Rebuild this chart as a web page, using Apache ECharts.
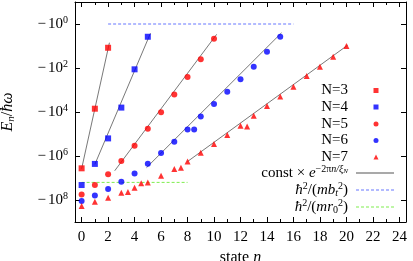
<!DOCTYPE html>
<html><head><meta charset="utf-8">
<script src="https://cdn.jsdelivr.net/npm/echarts@6/dist/echarts.min.js"></script>
<style>html,body{margin:0;padding:0;background:#fff}#c{width:413px;height:261px}</style>
</head><body><div id="c"></div>
<script>
// Values: y = log10(|E_n / ħω|)  (axis shows −10^y)
const n3 = [0, 1, 2];
const e3 = [6.56, 3.85, 1.08];
const n4 = [0, 1, 2, 3, 4, 5];
const e4 = [7.32, 6.36, 5.20, 3.80, 2.06, 0.58];
const n5 = [0, 1, 2, 3, 4, 5, 6, 7, 8, 9, 10];
const e5 = [7.75, 7.32, 6.83, 6.23, 5.53, 4.76, 4.01, 3.21, 2.41, 1.60, 0.67];
const n6 = [0, 1, 2, 3, 4, 5, 6, 7, 8, 8.5, 9, 10, 11, 12, 13, 14, 15];
const e6 = [8.05, 7.79, 7.50, 7.17, 6.79, 6.35, 5.86, 5.35, 4.80, 4.79, 4.21, 3.64, 3.08, 2.51, 1.94, 1.26, 0.58];
const n7 = [0, 1, 2, 3, 3.5, 4, 4.5, 5, 6, 7, 7.5, 8, 9, 10, 11, 12, 12.5, 13, 14, 15, 16, 17, 18, 19, 20];
const e7 = [8.27, 8.08, 7.90, 7.67, 7.64, 7.44, 7.24, 7.20, 6.90, 6.59, 6.53, 6.25, 5.85, 5.45, 5.05, 4.62, 4.66, 4.17, 3.73, 3.30, 2.85, 2.36, 1.94, 1.49, 1.00];
// fit lines const*exp(-2πn/ξ_N): [n start, y start, n end, y end]
const fitN3 = [0, 6.58, 2.1, 0.85];
const fitN4 = [1, 6.38, 5.2, 0.42];
const fitN5 = [2.5, 6.67, 10.2, 0.47];
const fitN6 = [4.9, 6.53, 15.1, 0.40];
const fitN7 = [8, 6.25, 20.1, 0.96];
// reference levels: n from, n to, y
const levelBt = [2, 16, 0];     // ħ²/(m b_t²)
const levelR0 = [0, 8, 7.2];    // ħ²/(m r_0²)
const xLabelTicks = [0, 2, 4, 6, 8, 10, 12, 14, 16, 18, 20, 22, 24];
const xMinorTicks = [0,1,2,3,4,5,6,7,8,9,10,11,12,13,14,15,16,17,18,19,20,21,22,23,24];
const yLabelTicks = [0, 2, 4, 6, 8];

const F = "'Liberation Serif','DejaVu Serif',serif";
const FS = 15;
const rich = {
  n: {fontFamily: F, fontSize: FS, color: '#000'},
  m: {fontFamily: F, fontSize: FS, color: '#000', padding: [0, 2, 0, 0]},
  i: {fontFamily: F, fontSize: FS, fontStyle: 'italic', color: '#000'},
  big: {fontFamily: F, fontSize: 16, fontStyle: 'italic', color: '#000'},
  bign: {fontFamily: F, fontSize: 16, color: '#000'},
  sup: {fontFamily: F, fontSize: 10, color: '#000', padding: [0, 0, 8, 0]},
  supi: {fontFamily: F, fontSize: 10, fontStyle: 'italic', color: '#000', padding: [0, 0, 8, 0]},
  supsub: {fontFamily: F, fontSize: 7, fontStyle: 'italic', color: '#000', padding: [0, 0, 3, 0]},
  sub: {fontFamily: F, fontSize: 10, color: '#000', padding: [6, 0, 0, 0]},
  subi: {fontFamily: F, fontSize: 10, fontStyle: 'italic', color: '#000', padding: [6, 0, 0, 0]},
  bsubi: {fontFamily: F, fontSize: 11, fontStyle: 'italic', color: '#000', padding: [7, 0, 0, 0]}
};
const zip = (a, b) => a.map((v, k) => [v, b[k]]);
const seg = s => [[s[0], s[1]], [s[2], s[3]]];

const RED = '#ff0000', BLUE = '#0000ff', FIT = '#555555', LBLUE = '#6677ff', LGREEN = '#7fee4f';
const names = {
  'N=3': '{n|N=3}', 'N=4': '{n|N=4}', 'N=5': '{n|N=5}', 'N=6': '{n|N=6}', 'N=7': '{n|N=7}',
  fit: '{n|const × }{i|e}{sup|−2π}{supi|n/ξ}{supsub|N}',
  bt: '{i|ħ}{sup|2}{n|/(}{i|mb}{subi|t}{sup|2}{n|)}',
  r0: '{i|ħ}{sup|2}{n|/(}{i|mr}{sub|0}{sup|2}{n|)}'
};
const scatter = (name, x, y, sym, col, size) => ({
  type: 'scatter', name, data: zip(x, y), symbol: sym, symbolSize: size,
  itemStyle: {color: col}, z: 4, silent: true
});
const lineS = (name, data, col, type, w) => ({
  type: 'line', name, data, symbol: 'none', z: 3, silent: true,
  lineStyle: {color: col, width: w, type}, itemStyle: {color: col}
});

const series = [
  scatter('N=3', n3, e3, 'rect', RED, 6),
  scatter('N=4', n4, e4, 'rect', BLUE, 6),
  scatter('N=5', n5, e5, 'circle', RED, 6),
  scatter('N=6', n6, e6, 'circle', BLUE, 6),
  scatter('N=7', n7, e7, 'triangle', RED, 6),
  lineS('fit', seg(fitN3), FIT, 'solid', 0.8),
  lineS('fit', seg(fitN4), FIT, 'solid', 0.8),
  lineS('fit', seg(fitN5), FIT, 'solid', 0.8),
  lineS('fit', seg(fitN6), FIT, 'solid', 0.8),
  lineS('fit', seg(fitN7), FIT, 'solid', 0.8),
  lineS('bt', [[levelBt[0], levelBt[2]], [levelBt[1], levelBt[2]]], LBLUE, [3, 2], 1),
  lineS('r0', [[levelR0[0], levelR0[2]], [levelR0[1], levelR0[2]]], LGREEN, [3, 2], 1)
];

// dashed legend sample (38 x 1)
const dashPath = 'path://M0,0h3v1h-3z M5,0h3v1h-3z M10,0h3v1h-3z M15,0h3v1h-3z M20,0h3v1h-3z M25,0h3v1h-3z M30,0h3v1h-3z M35,0h3v1h-3z';
const legendOrder = ['N=3', 'N=4', 'N=5', 'N=6', 'N=7', 'fit', 'bt', 'r0'];
const legendCenters = [92, 108.5, 125.5, 142, 158.5, 175, 192, 209];
const legends = legendOrder.map((nm, k) => {
  const isMark = k < 5;
  const icon = isMark ? undefined : (nm === 'fit' ? 'rect' : dashPath);
  const d = {name: nm};
  if (icon) d.icon = icon;
  return {
    data: [d], orient: 'vertical', align: 'right',
    right: isMark ? 34.5 : 19,
    top: legendCenters[k] - (isMark ? 9 : 11),
    padding: 0, itemWidth: isMark ? 5 : 38, itemHeight: isMark ? 5 : 1, selectedMode: false,
    formatter: name => names[name],
    textStyle: {fontFamily: F, fontSize: FS, color: '#000', rich, padding: [0, isMark ? 20.5 : 3, 0, 0]}
  };
});

const xBase = {type: 'value', min: -0.5, max: 24.5, splitLine: {show: false}, gridIndex: 0};
const yBase = {type: 'value', min: -1, max: 9, inverse: true, splitLine: {show: false}, gridIndex: 0};
const axLine = {show: true, onZero: false, lineStyle: {color: '#000', width: 1}};
const noLine = {show: false, onZero: false};

const option = {
  animation: false,
  backgroundColor: '#fff',
  grid: {left: 75, top: 2, width: 331, height: 220, containLabel: false, outerBoundsMode: 'none'},
  legend: legends,
  xAxis: [
    Object.assign({}, xBase, {position: 'bottom', axisLine: axLine,
      axisTick: {inside: true, length: 5, customValues: xLabelTicks, lineStyle: {color: '#000'}},
      axisLabel: {customValues: xLabelTicks, fontFamily: F, fontSize: FS, color: '#000', margin: 8},
      name: '{bign|state }{big|n}', nameLocation: 'middle', nameGap: 25,
      nameTextStyle: {rich, fontFamily: F, fontSize: 16}}),
    Object.assign({}, xBase, {position: 'bottom', axisLine: noLine,
      axisTick: {inside: true, length: 3, customValues: xMinorTicks, lineStyle: {color: '#000'}},
      axisLabel: {show: false}}),
    Object.assign({}, xBase, {position: 'top', axisLine: axLine,
      axisTick: {inside: true, length: 5, customValues: xLabelTicks, lineStyle: {color: '#000'}},
      axisLabel: {show: false}}),
    Object.assign({}, xBase, {position: 'top', axisLine: noLine,
      axisTick: {inside: true, length: 3, customValues: xMinorTicks, lineStyle: {color: '#000'}},
      axisLabel: {show: false}})
  ],
  yAxis: [
    Object.assign({}, yBase, {position: 'left', axisLine: axLine,
      axisTick: {inside: true, length: 5, customValues: yLabelTicks, lineStyle: {color: '#000'}},
      axisLabel: {customValues: yLabelTicks, margin: 7, rich,
        formatter: v => '{m|−}{n|10}{sup|' + v + '}'},
      name: '{big|E}{bsubi|n}{bign|/}{big|ħω}', nameLocation: 'middle', nameGap: 58, nameRotate: 90,
      nameTextStyle: {rich, fontFamily: F, fontSize: 16}}),
    Object.assign({}, yBase, {position: 'right', axisLine: axLine,
      axisTick: {inside: true, length: 5, customValues: yLabelTicks, lineStyle: {color: '#000'}},
      axisLabel: {show: false}})
  ],
  series
};
const chart = echarts.init(document.getElementById('c'), null, {renderer: 'canvas'});
chart.setOption(option);
</script></body></html>
